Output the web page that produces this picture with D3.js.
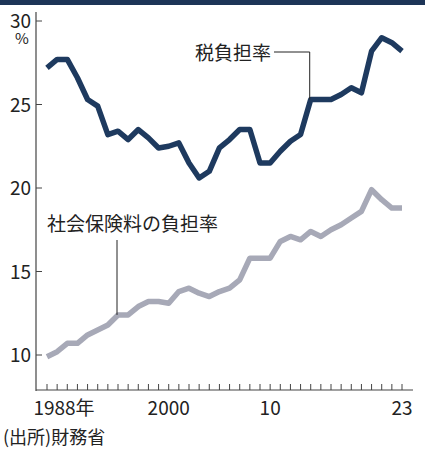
<!DOCTYPE html><html><head><meta charset="utf-8"><script src="https://cdn.jsdelivr.net/npm/d3@7"></script>
<style>body{margin:0;background:#fff}text{font-family:"Noto Sans CJK JP","Noto Sans",sans-serif}</style></head><body>
<svg id="c" width="425" height="458"></svg>
<script>
const years = d3.range(1988, 2024);
const tax = [27.2,27.7,27.7,26.6,25.3,24.9,23.2,23.4,22.9,23.5,23.0,22.4,22.5,22.7,21.5,20.6,21.0,22.4,22.9,23.5,23.5,21.5,21.5,22.2,22.8,23.2,25.3,25.3,25.3,25.6,26.0,25.7,28.2,29.0,28.7,28.2];
const social = [9.9,10.2,10.7,10.7,11.2,11.5,11.8,12.4,12.4,12.9,13.2,13.2,13.1,13.8,14.0,13.7,13.5,13.8,14.0,14.5,15.8,15.8,15.8,16.8,17.1,16.9,17.4,17.1,17.5,17.8,18.2,18.6,19.9,19.3,18.8,18.8];
const yTicks = [10,15,20,25,30];
const xLabels = [[1988,"1988年"],[2000,"2000"],[2010,"10"],[2023,"23"]];
const svg = d3.select("#c");
svg.append("rect").attr("x",0).attr("y",0).attr("width",425).attr("height",5).attr("fill","#1d3557");
const x = d3.scaleLinear().domain([1988,2023]).range([47,402]);
const y = d3.scaleLinear().domain([10,30]).range([355,21]);
svg.append("line").attr("x1",36).attr("x2",36).attr("y1",12).attr("y2",391).attr("stroke","#444").attr("stroke-width",1.2);
svg.append("line").attr("x1",36).attr("x2",413).attr("y1",390).attr("y2",390).attr("stroke","#444").attr("stroke-width",1.2);
yTicks.forEach(v=>{
  svg.append("line").attr("x1",36).attr("x2",42).attr("y1",y(v)).attr("y2",y(v)).attr("stroke","#444");
  svg.append("text").attr("x",31).attr("y",y(v)+7).attr("text-anchor","end").attr("font-size",19).attr("fill","#222").attr("font-family","Liberation Sans Narrow, DejaVu Sans Condensed, sans-serif").text(v);
});
svg.append("text").attr("x",22).attr("y",44).attr("text-anchor","middle").attr("font-size",15).attr("fill","#222").text("%");
years.forEach(yr=>svg.append("line").attr("x1",x(yr)).attr("x2",x(yr)).attr("y1",384).attr("y2",390).attr("stroke","#444"));
xLabels.forEach(([yr,t])=>svg.append("text").attr("x",x(yr)+(yr===1988?17:0)).attr("y",415).attr("text-anchor","middle").attr("font-size",19).attr("fill","#222").attr("font-family","Liberation Sans Narrow, sans-serif").text(t));
svg.append("text").attr("x",3).attr("y",444).attr("font-size",18).attr("fill","#222").text("(出所)財務省");
const line = d3.line().x((d,i)=>x(years[i])).y(d=>y(d));
svg.append("path").datum(social).attr("d",line).attr("fill","none").attr("stroke","#a7a9b7").attr("stroke-width",5.5).attr("stroke-linejoin","round");
svg.append("path").datum(tax).attr("d",line).attr("fill","none").attr("stroke","#1e3a5f").attr("stroke-width",5.5).attr("stroke-linejoin","round");
svg.append("text").attr("x",195).attr("y",60).attr("font-size",19).attr("fill","#222").text("税負担率");
svg.append("path").attr("d",`M274,52H${x(2014)-1}V${y(25.3)}`).attr("fill","none").attr("stroke","#222");
svg.append("text").attr("x",47).attr("y",231).attr("font-size",19).attr("fill","#222").text("社会保険料の負担率");
svg.append("line").attr("x1",x(1995)-1).attr("x2",x(1995)-1).attr("y1",240).attr("y2",y(12.4)).attr("stroke","#222");
</script></body></html>
